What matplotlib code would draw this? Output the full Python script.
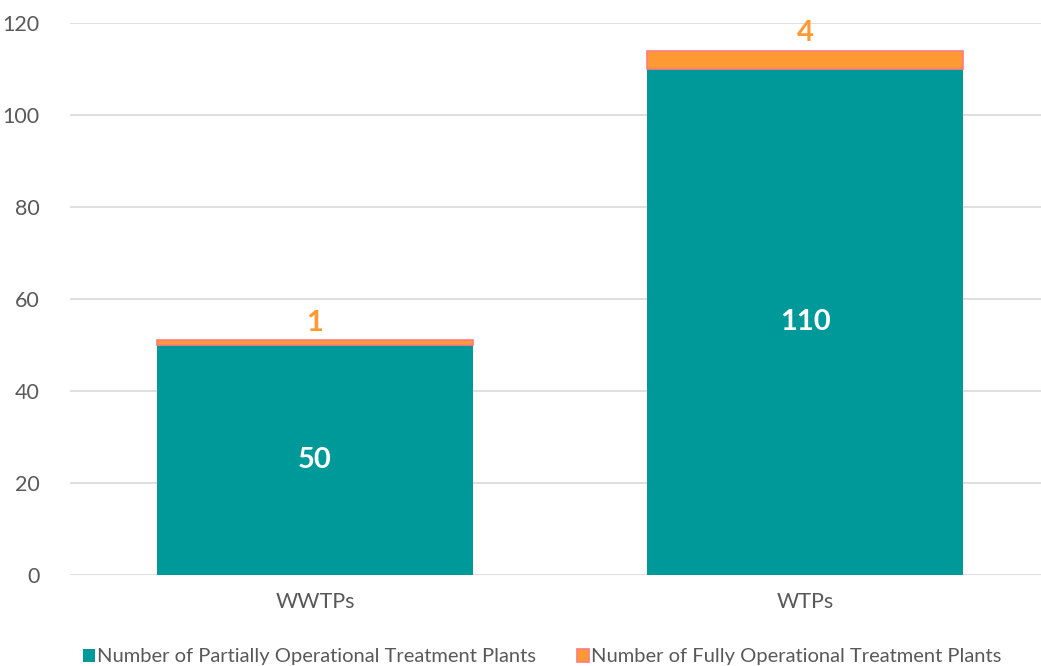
import matplotlib.pyplot as plt

categories = ['WWTPs', 'WTPs']
partial = [50, 110]
full = [1, 4]

plt.rcParams['font.family'] = ['Lato', 'DejaVu Sans']

teal = '#009999'
orange = '#FF9933'
grey = '#595959'

fig = plt.figure(figsize=(10.41, 6.66), dpi=100)
ax = fig.add_axes([0.0672, 0.1366, 0.9414, 0.8289])

x = list(range(len(categories)))
width = 0.645
b1 = ax.bar(x, partial, width, color=teal, label='Number of Partially Operational Treatment Plants', zorder=3)
b2 = ax.bar(x, full, width, bottom=partial, color=orange, edgecolor='#FF7C80', linewidth=1.2,
            label='Number of Fully Operational Treatment Plants', zorder=3)

# value labels: partial inside the bar, full above the stack
for xi, p in zip(x, partial):
    ax.text(xi, p / 2, str(p), ha='center', va='center', color='white',
            fontsize=21, fontweight='bold', zorder=4)
for xi, p, f in zip(x, partial, full):
    ax.annotate(str(f), (xi, p + f), xytext=(0, 3), textcoords='offset points',
                ha='center', va='bottom', color=orange, fontsize=21, fontweight='bold')

ax.set_xlim(-0.5, 1.5)
ax.set_ylim(0, 120)
ax.set_yticks(range(0, 121, 20))
ax.set_xticks(x)
ax.set_xticklabels(categories)
ax.tick_params(axis='both', length=0, labelsize=15.5, labelcolor=grey)
ax.tick_params(axis='y', pad=22)
ax.tick_params(axis='x', pad=12)
ax.yaxis.grid(True, color='#D9D9D9', linewidth=1.2, zorder=0)
for s in ax.spines.values():
    s.set_visible(False)

leg = ax.legend(loc='upper center', bbox_to_anchor=(0.482, -0.1), ncol=2, frameon=False,
                fontsize=14.5, handlelength=0.6, handleheight=0.6, handletextpad=0.1,
                columnspacing=2.0, labelcolor=grey)

fig.savefig('out.png', dpi=100)
